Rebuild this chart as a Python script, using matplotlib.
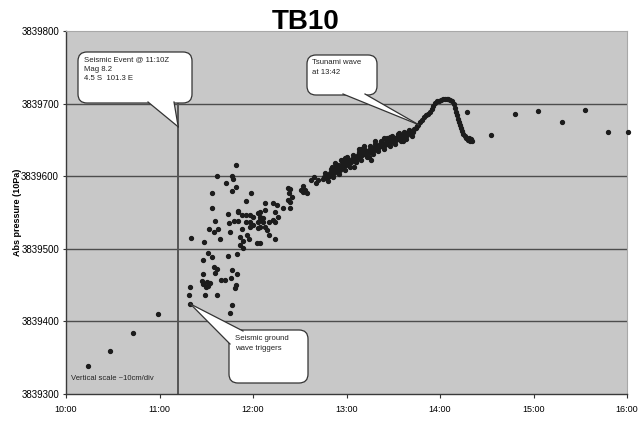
import matplotlib
matplotlib.use("Agg")
import matplotlib.pyplot as plt
from matplotlib.patches import FancyBboxPatch, Polygon
from matplotlib.lines import Line2D

plt.rcParams['font.family'] = ['Liberation Sans', 'DejaVu Sans']

# ---------------- data (time in decimal hours, pressure in 10 Pa) ----------------
early_t = [10.23, 10.47, 10.72, 10.98]
early_p = [3839339, 3839359, 3839384, 3839410]

seismic_t = [11.82, 11.62, 11.78, 11.79, 11.71, 11.82, 11.78, 11.56, 11.98, 11.92,
             11.56, 11.73, 11.84, 11.59, 11.53, 11.63, 11.58, 11.75, 11.65, 11.34,
             11.48, 11.80, 11.84, 11.74, 11.88, 11.86, 11.89, 11.86, 11.89, 11.83,
             11.52, 11.56, 11.47, 11.73, 11.58, 11.62, 11.59, 11.78, 11.83, 11.47,
             11.45, 11.46, 11.51, 11.54, 11.50, 11.52, 11.66, 11.70, 11.76, 11.82,
             11.81, 11.33, 11.32, 11.49, 11.61, 11.78, 11.75, 11.33]
seismic_p = [3839615, 3839600, 3839600, 3839596, 3839591, 3839585, 3839580, 3839577, 3839577, 3839566,
             3839556, 3839548, 3839552, 3839538, 3839527, 3839527, 3839523, 3839523, 3839514, 3839515,
             3839509, 3839538, 3839538, 3839536, 3839527, 3839516, 3839511, 3839505, 3839501, 3839493,
             3839494, 3839489, 3839485, 3839490, 3839475, 3839472, 3839467, 3839471, 3839465, 3839465,
             3839456, 3839452, 3839454, 3839453, 3839447, 3839449, 3839457, 3839457, 3839460, 3839450,
             3839446, 3839447, 3839436, 3839436, 3839436, 3839423, 3839412, 3839424]

mid_t = [11.97, 12.00, 12.05, 12.08, 12.13, 12.11, 12.08, 12.05, 12.00, 11.97,
         12.05, 12.13, 12.17, 12.21, 12.24, 12.15, 12.17, 12.24, 12.04, 12.07,
         11.96, 12.24, 12.26, 12.13, 12.21, 11.94, 12.08, 12.11, 11.92, 11.97,
         11.88, 11.84, 11.92, 12.08, 12.27, 12.32,
         12.37, 12.40, 12.38, 12.37, 12.40, 12.42, 12.40, 12.56, 12.58, 12.54,
         12.65, 12.62, 12.67, 12.69, 12.80, 12.83, 12.86, 12.90, 12.94, 12.97,
         12.88, 12.96, 12.51, 12.53]
mid_p = [3839547, 3839544, 3839549, 3839551, 3839553, 3839537, 3839540, 3839537, 3839533, 3839530,
         3839529, 3839530, 3839537, 3839540, 3839537, 3839526, 3839519, 3839514, 3839508, 3839508,
         3839514, 3839551, 3839560, 3839563, 3839563, 3839519, 3839544, 3839542, 3839537, 3839537,
         3839547, 3839551, 3839547, 3839530, 3839544, 3839556,
         3839584, 3839582, 3839577, 3839567, 3839565, 3839571, 3839556, 3839581, 3839577, 3839578,
         3839599, 3839595, 3839591, 3839595, 3839599, 3839602, 3839606, 3839609, 3839613, 3839618,
         3839618, 3839622, 3839581, 3839586]

band_t = [12.75, 12.76, 12.78, 12.79, 12.81, 12.82, 12.84, 12.85, 12.87, 12.88,
          12.90, 12.91, 12.93, 12.94, 12.96, 12.97, 12.99, 13.00, 13.02, 13.03,
          13.05, 13.06, 13.08, 13.09, 13.11, 13.12, 13.14, 13.15, 13.17, 13.18,
          13.20, 13.21, 13.23, 13.24, 13.26, 13.27, 13.29, 13.30, 13.32, 13.33,
          13.35, 13.36, 13.38, 13.39, 13.41, 13.42, 13.44, 13.45, 13.47, 13.48,
          13.50, 13.51, 13.53, 13.54, 13.56, 13.57, 13.59, 13.60, 13.62, 13.63,
          13.65, 13.66, 13.68, 13.69, 13.71, 13.72, 13.74, 13.75, 13.77,
          13.08, 13.26, 12.94, 13.24, 13.10, 13.40, 13.60, 13.15, 12.98]
band_p = [3839596, 3839599, 3839597, 3839601, 3839600, 3839604, 3839602, 3839606, 3839604, 3839609,
          3839607, 3839611, 3839609, 3839614, 3839612, 3839617, 3839615, 3839619, 3839617, 3839621,
          3839619, 3839624, 3839622, 3839627, 3839625, 3839629, 3839627, 3839631, 3839629, 3839633,
          3839630, 3839635, 3839632, 3839636, 3839634, 3839639, 3839636, 3839640, 3839638, 3839642,
          3839640, 3839644, 3839641, 3839645, 3839643, 3839647, 3839644, 3839648, 3839646, 3839650,
          3839648, 3839652, 3839650, 3839654, 3839651, 3839655, 3839653, 3839657, 3839655, 3839659,
          3839657, 3839661, 3839659, 3839662, 3839661, 3839665, 3839666, 3839669, 3839671,
          3839613, 3839622, 3839622, 3839626, 3839620, 3839652, 3839648, 3839638, 3839625]

# extra readings spread around the dense band (upper and lower edges)
band2_t = [12.77, 12.80, 12.83, 12.86, 12.89, 12.92, 12.95, 12.98, 13.01, 13.04,
           13.07, 13.10, 13.13, 13.16, 13.19, 13.22, 13.25, 13.28, 13.31, 13.34,
           13.37, 13.40, 13.43, 13.46, 13.49, 13.52, 13.55, 13.58, 13.61, 13.64,
           13.67, 13.70, 12.84, 12.91, 13.00, 13.13, 13.19, 13.31, 13.46, 13.56]
band2_p = [3839604, 3839593, 3839610, 3839599, 3839614, 3839603, 3839620, 3839609, 3839625, 3839613,
           3839629, 3839619, 3839634, 3839623, 3839638, 3839626, 3839642, 3839631, 3839645, 3839635,
           3839649, 3839638, 3839652, 3839641, 3839655, 3839645, 3839658, 3839648, 3839661, 3839651,
           3839664, 3839656, 3839612, 3839616, 3839626, 3839637, 3839641, 3839648, 3839654, 3839660]

peak_t = [13.79, 13.81, 13.83, 13.85, 13.87, 13.89, 13.91, 13.93, 13.95, 13.97,
          13.99, 14.01, 14.03, 14.05, 14.07, 14.09, 14.11, 14.13, 14.15, 14.16,
          14.17, 14.18, 14.19, 14.20, 14.21, 14.22, 14.24, 14.25, 14.27, 14.28,
          14.30, 14.31, 14.32, 14.33, 14.34]
peak_p = [3839675, 3839678, 3839681, 3839684, 3839686, 3839689, 3839693, 3839697, 3839701, 3839703,
          3839704, 3839705, 3839706, 3839706, 3839707, 3839706, 3839705, 3839703, 3839699, 3839694,
          3839689, 3839684, 3839679, 3839675, 3839670, 3839666, 3839662, 3839658, 3839655, 3839652,
          3839650, 3839653, 3839648, 3839651, 3839649]

late_t = [14.29, 14.55, 14.80, 15.05, 15.30, 15.55, 15.80, 16.01]
late_p = [3839688, 3839657, 3839686, 3839690, 3839675, 3839691, 3839661, 3839661]

event_time = 11.2
x_ticks = [10, 11, 12, 13, 14, 15, 16]
x_labels = ["10:00", "11:00", "12:00", "13:00", "14:00", "15:00", "16:00"]
y_ticks = [3839300, 3839400, 3839500, 3839600, 3839700, 3839800]
y_labels = ["3839300", "3839400", "3839500", "3839600", "3839700", "3839800"]

# ---------------- figure ----------------
W, H = 639, 425
fig = plt.figure(figsize=(W / 100, H / 100), dpi=100)
fig.patch.set_facecolor("white")
L, R, T, B = 66, 627, 31, 394
ax = fig.add_axes([L / W, 1 - B / H, (R - L) / W, (B - T) / H])
ax.set_facecolor("#c8c8c8")
ax.set_xlim(10, 16)
ax.set_ylim(3839300, 3839800)

for yv in y_ticks[1:-1]:
    ax.axhline(yv, color="#4d4d4d", lw=1.0, zorder=1)
ax.plot([event_time, event_time], [3839300, 3839700], color="#555555", lw=1.4, zorder=2)

mstyle = dict(ls="none", marker="o", ms=2.8, mfc="#1c1c1c", mec="#1c1c1c", zorder=3, clip_on=False)
for tt, pp in [(early_t, early_p), (seismic_t, seismic_p), (mid_t, mid_p),
               (band_t, band_p), (band2_t, band2_p), (peak_t, peak_p), (late_t, late_p)]:
    ax.plot(tt, pp, **mstyle)

ax.set_xticks(x_ticks)
ax.set_xticklabels(x_labels, fontsize=6.5)
ax.set_yticks(y_ticks)
ax.set_yticklabels(y_labels, fontsize=7)
ax.tick_params(axis="x", length=3, pad=5, color="#333333")
ax.tick_params(axis="y", length=2, pad=3, color="#333333")
for s in ["left", "bottom"]:
    ax.spines[s].set_color("#3a3a3a")
    ax.spines[s].set_linewidth(1.0)
for s in ["top", "right"]:
    ax.spines[s].set_color("#a8a8a8")
    ax.spines[s].set_linewidth(0.8)

fig.text(18 / W, 1 - 212 / H, "Abs pressure (10Pa)", rotation=90, fontsize=6.5,
         fontweight="bold", ha="center", va="center")
fig.text(306 / W, 1 - 22 / H, "TB10", fontsize=20, fontweight="bold", ha="center", va="center")


def fx(px):
    return (px - L) / (R - L)


def fy(py):
    return (B - py) / (B - T)


def callout(box_px, base_px, tip_data, text, text_px, fs=5.6):
    x0, y0, x1, y1 = box_px
    asp = (R - L) / (B - T)
    box = FancyBboxPatch((fx(x0), fy(y1)), fx(x1) - fx(x0), fy(y0) - fy(y1),
                         boxstyle="round,pad=0,rounding_size=0.016", mutation_aspect=asp,
                         transform=ax.transAxes, fc="white", ec="#333333", lw=0.9,
                         zorder=5, clip_on=False)
    ax.add_patch(box)
    tip = ax.transAxes.inverted().transform(ax.transData.transform(tip_data))
    b1 = (fx(base_px[0][0]), fy(base_px[0][1]))
    b2 = (fx(base_px[1][0]), fy(base_px[1][1]))
    ax.add_patch(Polygon([b1, tuple(tip), b2], closed=True, transform=ax.transAxes,
                         fc="white", ec="none", zorder=6, clip_on=False))
    for b in (b1, b2):
        ax.add_line(Line2D([b[0], tip[0]], [b[1], tip[1]], transform=ax.transAxes,
                           color="#333333", lw=0.9, zorder=7, clip_on=False))
    ax.text(fx(text_px[0]), fy(text_px[1]), text, transform=ax.transAxes, fontsize=fs,
            ha="left", va="top", linespacing=1.55, color="#222222", zorder=8)


callout((78, 52, 192, 103), [(148, 102), (174, 102)], (event_time, 3839668),
        "Seismic Event @ 11:10Z\nMag 8.2\n4.5 S  101.3 E", (84, 56))
callout((307, 55, 377, 95), [(343, 94), (365, 94)], (13.77, 3839671),
        "Tsunami wave\nat 13:42", (312, 59))
callout((229, 330, 308, 383), [(230, 344), (243, 331)], (11.33, 3839424),
        "Seismic ground\nwave triggers", (235, 335))

ax.text(fx(71), fy(379), "Vertical scale ~10cm/div", transform=ax.transAxes,
        fontsize=5.5, ha="left", va="center", color="#222222")

fig.savefig("out.png", dpi=100)
